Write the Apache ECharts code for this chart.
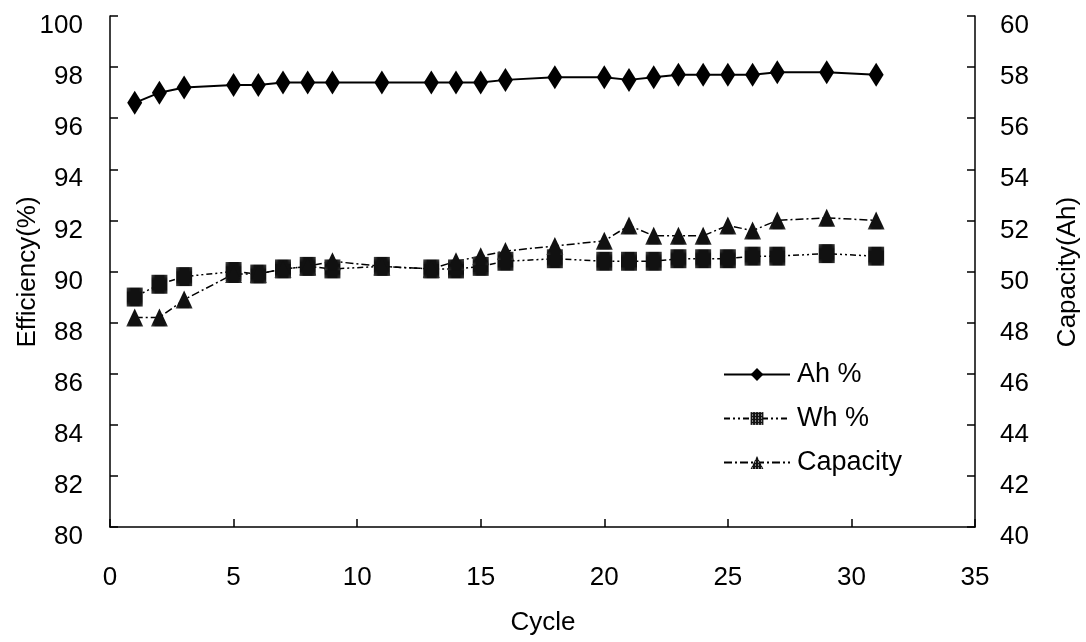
<!DOCTYPE html>
<html>
<head>
<meta charset="utf-8">
<script src="https://cdn.jsdelivr.net/npm/echarts@6/dist/echarts.min.js"></script>
<style>
  html, body { margin: 0; padding: 0; background: #fff; }
  #chart { width: 1086px; height: 642px; }
</style>
</head>
<body>
<div id="chart"></div>
<script>
// data
var cycles   = [1, 2, 3, 5, 6, 7, 8, 9, 11, 13, 14, 15, 16, 18, 20, 21, 22, 23, 24, 25, 26, 27, 29, 31];
var ahPct    = [96.6, 97.0, 97.2, 97.3, 97.3, 97.4, 97.4, 97.4, 97.4, 97.4, 97.4, 97.4, 97.5, 97.6, 97.6, 97.5, 97.6, 97.7, 97.7, 97.7, 97.7, 97.8, 97.8, 97.7];
var whPct    = [89.0, 89.5, 89.8, 90.0, 89.9, 90.1, 90.2, 90.1, 90.2, 90.1, 90.1, 90.2, 90.4, 90.5, 90.4, 90.4, 90.4, 90.5, 90.5, 90.5, 90.6, 90.6, 90.7, 90.6];
var capacity = [48.2, 48.2, 48.9, 49.9, 49.9, 50.1, 50.2, 50.4, 50.2, 50.1, 50.4, 50.6, 50.8, 51.0, 51.2, 51.8, 51.4, 51.4, 51.4, 51.8, 51.6, 52.0, 52.1, 52.0];

function pairs(xs, ys) {
  return xs.map(function (x, i) { return [x, ys[i]]; });
}

// dotted grey fill like the printed markers
var pat = document.createElement('canvas');
pat.width = 3; pat.height = 3;
var pc = pat.getContext('2d');
pc.fillStyle = '#111';
pc.fillRect(0, 0, 3, 3);
pc.fillStyle = '#fff';
pc.fillRect(1, 1, 1, 1);
var dotted = { image: pat, repeat: 'repeat' };

var font = 'Liberation Sans';
var tickLabel = { color: '#000', fontSize: 26, fontFamily: font, verticalAlign: 'top', lineHeight: 20 };

// axis titles as plain text, placed where the picture has them
function title(txt, x, y, rot) {
  return {
    type: 'text', x: x, y: y, rotation: rot,
    style: { text: txt, fill: '#000', font: '26px "' + font + '"', align: 'center', verticalAlign: 'middle' }
  };
}

var chart = echarts.init(document.getElementById('chart'));
chart.setOption({
  animation: false,
  backgroundColor: '#fff',
  grid: { left: 110, right: 111, top: 16, bottom: 115, outerBoundsMode: 'none', containLabel: false },
  graphic: [
    title('Efficiency(%)', 28, 272, Math.PI / 2),
    title('Capacity(Ah)', 1068, 272, Math.PI / 2),
    title('Cycle', 543, 623, 0)
  ],
  legend: {
    orient: 'vertical',
    left: 718,
    top: 356,
    itemWidth: 66,
    itemHeight: 16,
    itemGap: 17,
    textStyle: { color: '#000', fontSize: 27, fontFamily: font, padding: [0, 0, 0, 2] },
    data: ['Ah %', 'Wh %', 'Capacity']
  },
  xAxis: {
    type: 'value', min: 0, max: 35, interval: 5,
    axisLine: { lineStyle: { color: '#000', width: 1.5 } },
    axisTick: { inside: true, length: 8, lineStyle: { color: '#000', width: 1.5 } },
    axisLabel: { color: '#000', fontSize: 26, fontFamily: font, margin: 38 },
    splitLine: { show: false }
  },
  yAxis: [{
    type: 'value', min: 80, max: 100, interval: 2,
    axisLine: { show: true, lineStyle: { color: '#000', width: 1.5 } },
    axisTick: { show: true, inside: true, length: 8, lineStyle: { color: '#000', width: 1.5 } },
    axisLabel: Object.assign({ margin: 27 }, tickLabel),
    splitLine: { show: false }
  }, {
    type: 'value', min: 40, max: 60, interval: 2,
    position: 'right',
    axisLine: { show: true, lineStyle: { color: '#000', width: 1.5 } },
    axisTick: { show: true, inside: true, length: 8, lineStyle: { color: '#000', width: 1.5 } },
    axisLabel: Object.assign({ margin: 25 }, tickLabel),
    splitLine: { show: false }
  }],
  series: [{
    name: 'Ah %', type: 'line', yAxisIndex: 0,
    data: pairs(cycles, ahPct),
    symbol: 'diamond', symbolSize: [15, 24],
    lineStyle: { color: '#000', width: 2 },
    itemStyle: { color: '#000', opacity: 1 }
  }, {
    name: 'Wh %', type: 'line', yAxisIndex: 0,
    data: pairs(cycles, whPct),
    symbol: 'rect', symbolSize: [16, 19],
    lineStyle: { color: '#000', width: 1.5, type: [6, 3, 2, 3, 2, 3] },
    itemStyle: { color: dotted, opacity: 1 }
  }, {
    name: 'Capacity', type: 'line', yAxisIndex: 1,
    data: pairs(cycles, capacity),
    symbol: 'triangle', symbolSize: [17, 18],
    lineStyle: { color: '#000', width: 1.5, type: [8, 3, 2, 3] },
    itemStyle: { color: dotted, opacity: 1 }
  }]
});
</script>
</body>
</html>
